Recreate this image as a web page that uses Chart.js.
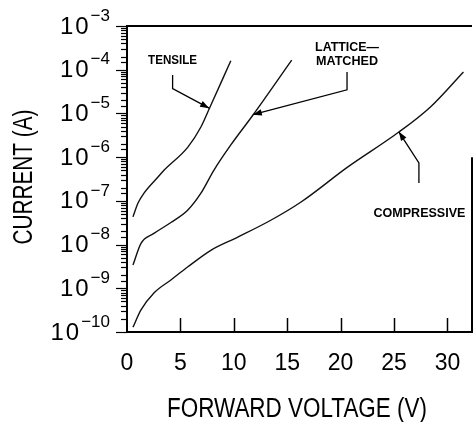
<!DOCTYPE html>
<html>
<head>
<meta charset="utf-8">
<script src="https://cdn.jsdelivr.net/npm/chart.js@4.4.1/dist/chart.umd.min.js"></script>
<style>
  html, body { margin: 0; padding: 0; background: #fff; }
  #wrap { width: 473px; height: 422px; }
</style>
</head>
<body>
<div id="wrap"><canvas id="c" width="473" height="422"></canvas></div>
<script>
// ---- data ----
const tensileV = [0.56, 1.03, 1.59, 2.9, 3.46, 5.7, 6.92, 7.69, 9.72];
const tensileI = [4.3e-8, 8.9e-8, 1.5e-7, 3.5e-7, 5.0e-7, 1.7e-6, 4.9e-6, 1.26e-5, 1.6e-4];

const latticeV = [0.56, 1.31, 2.52, 4.11, 5.7, 6.92, 8.13, 9.72, 11.78, 15.42];
const latticeI = [3.4e-9, 1.07e-8, 1.8e-8, 3.2e-8, 6.2e-8, 1.5e-7, 5.0e-7, 1.9e-6, 9.1e-6, 1.66e-4];

const compressiveV = [0.56, 1.31, 2.52, 4.11, 5.7, 7.85, 10.37, 13.46, 16.26, 20.65, 25.42, 28.41, 31.5];
const compressiveI = [1.29e-10, 3.2e-10, 7.8e-10, 1.55e-9, 3.1e-9, 7.4e-9, 1.48e-8, 3.6e-8, 9.3e-8, 5.9e-7, 3.7e-6, 1.41e-5, 8.9e-5];

const xTickValues = [0, 5, 10, 15, 20, 25, 30];
const yTickExponents = [-3, -4, -5, -6, -7, -8, -9, -10];
const xTitle = 'FORWARD VOLTAGE (V)';
const yTitle = 'CURRENT (A)';

// callout labels (anchored in data units)
const callouts = [
  { lines: ['TENSILE'], at: [4.27, -3.78], widths: [49],
    path: [[4.27, -4.12], [4.27, -4.43], [7.69, -4.88]] },
  { lines: ['LATTICE\u2014', 'MATCHED'], at: [20.6, -3.48], lineStep: -0.34, widths: [64, 62],
    path: [[20.6, -4.05], [20.6, -4.46], [11.78, -5.03]] },
  { lines: ['COMPRESSIVE'], at: [27.38, -7.29], widths: [92],
    path: [[27.33, -6.59], [27.33, -6.13], [25.45, -5.42]] }
];

const toXY = (vs, is) => vs.map((v, i) => ({ x: v, y: is[i] }));

function line(ctx, x1, y1, x2, y2) {
  ctx.beginPath(); ctx.moveTo(x1, y1); ctx.lineTo(x2, y2); ctx.stroke();
}
function squeezedText(ctx, txt, cx, cy, font, targetW) {
  ctx.font = font;
  const w = ctx.measureText(txt).width;
  const s = targetW ? targetW / w : 1;
  ctx.save();
  ctx.translate(cx, cy);
  ctx.scale(s, 1);
  ctx.textAlign = 'center';
  ctx.textBaseline = 'middle';
  ctx.fillText(txt, 0, 0);
  ctx.restore();
}

const deco = {
  id: 'deco',
  afterDraw(chart) {
    const { ctx, chartArea: a, scales: { x, y } } = chart;
    ctx.save();
    ctx.strokeStyle = '#000';
    ctx.fillStyle = '#000';

    // top frame and partial right frame
    ctx.lineWidth = 2;
    line(ctx, a.left, a.top, a.right, a.top);
    line(ctx, a.right, y.getPixelForValue(1e-6), a.right, a.bottom);

    // y ticks (outward, log minors)
    ctx.lineWidth = 1.2;
    y.ticks.forEach(t => {
      const v = t.value;
      const e = Math.floor(Math.log10(v) + 1e-9);
      const m = v / Math.pow(10, e);
      const major = Math.abs(m - 1) < 1e-6;
      const len = major ? 11 : 6;
      const py = Math.round(y.getPixelForValue(v)) + 0.5;
      line(ctx, a.left - len, py, a.left, py);
    });

    // x ticks (inward)
    ctx.lineWidth = 1.5;
    xTickValues.forEach(v => {
      if (v === 0) return;
      const px = Math.round(x.getPixelForValue(v)) + 0.5;
      line(ctx, px, a.bottom, px, a.bottom - 14);
    });

    // y tick labels 10^n
    const right = 110;
    yTickExponents.forEach(e => {
      const py = y.getPixelForValue(Math.pow(10, e));
      const expTxt = '\u2212' + Math.abs(e);
      ctx.font = '17px "Liberation Sans", Arial, sans-serif';
      ctx.letterSpacing = '0px';
      const ew = ctx.measureText(expTxt).width;
      ctx.textAlign = 'left';
      ctx.textBaseline = 'middle';
      ctx.fillText(expTxt, right - ew, py - 10);
      ctx.font = '24px "Liberation Sans", Arial, sans-serif';
      ctx.letterSpacing = '2px';
      ctx.textAlign = 'right';
      ctx.fillText('10', right - ew, py + 1);
      ctx.letterSpacing = '0px';
    });

    // x tick labels
    ctx.font = '23px "Liberation Sans", Arial, sans-serif';
    ctx.textAlign = 'center';
    ctx.textBaseline = 'middle';
    xTickValues.forEach(v => {
      ctx.fillText(String(v), x.getPixelForValue(v), 364);
    });

    // axis titles
    squeezedText(ctx, xTitle, 297, 410, '27px "Liberation Sans", Arial, sans-serif', 260);
    ctx.save();
    ctx.translate(24, 177);
    ctx.rotate(-Math.PI / 2);
    squeezedText(ctx, yTitle, 0, 0, '28px "Liberation Sans", Arial, sans-serif', 135);
    ctx.restore();

    // callouts
    callouts.forEach(c => {
      const lx = x.getPixelForValue(c.at[0]);
      c.lines.forEach((t, i) => {
        const ly = y.getPixelForValue(Math.pow(10, c.at[1] + (c.lineStep || 0) * i));
        squeezedText(ctx, t, lx, ly, 'bold 13px "Liberation Sans", Arial, sans-serif', c.widths[i]);
      });
      const pts = c.path.map(p => [x.getPixelForValue(p[0]), y.getPixelForValue(Math.pow(10, p[1]))]);
      ctx.lineWidth = 1.3;
      ctx.beginPath();
      ctx.moveTo(pts[0][0], pts[0][1]);
      for (let i = 1; i < pts.length; i++) ctx.lineTo(pts[i][0], pts[i][1]);
      ctx.stroke();
      const [tx, ty] = pts[pts.length - 1];
      const [fx, fy] = pts[pts.length - 2];
      const ang = Math.atan2(ty - fy, tx - fx);
      const L = 9, W = 3.2;
      ctx.beginPath();
      ctx.moveTo(tx, ty);
      ctx.lineTo(tx - L * Math.cos(ang) + W * Math.sin(ang), ty - L * Math.sin(ang) - W * Math.cos(ang));
      ctx.lineTo(tx - L * Math.cos(ang) - W * Math.sin(ang), ty - L * Math.sin(ang) + W * Math.cos(ang));
      ctx.closePath();
      ctx.fill();
    });
    ctx.restore();
  }
};

const ds = (label, v, i) => ({
  label, data: toXY(v, i),
  borderColor: '#111', borderWidth: 1.4, pointRadius: 0,
  tension: 0.4, cubicInterpolationMode: 'monotone', fill: false
});

new Chart(document.getElementById('c'), {
  type: 'line',
  data: {
    datasets: [
      ds('Tensile', tensileV, tensileI),
      ds('Lattice-matched', latticeV, latticeI),
      ds('Compressive', compressiveV, compressiveI)
    ]
  },
  options: {
    responsive: false,
    devicePixelRatio: 1,
    animation: false,
    layout: { padding: { top: 26, right: 1, left: 0, bottom: 0 } },
    plugins: { legend: { display: false }, tooltip: { enabled: false } },
    scales: {
      x: {
        type: 'linear', min: 0, max: 32.3,
        grid: { display: false, drawTicks: false },
        border: { display: true, color: '#000', width: 2 },
        ticks: { display: false },
        afterBuildTicks: s => { s.ticks = xTickValues.map(v => ({ value: v })); },
        afterFit: s => { s.height = 90; }
      },
      y: {
        type: 'logarithmic', min: 1e-10, max: 1e-3,
        grid: { display: false, drawTicks: false },
        border: { display: true, color: '#000', width: 2 },
        ticks: { display: false },
        afterFit: s => { s.width = 127; }
      }
    }
  },
  plugins: [deco]
});
</script>
</body>
</html>
